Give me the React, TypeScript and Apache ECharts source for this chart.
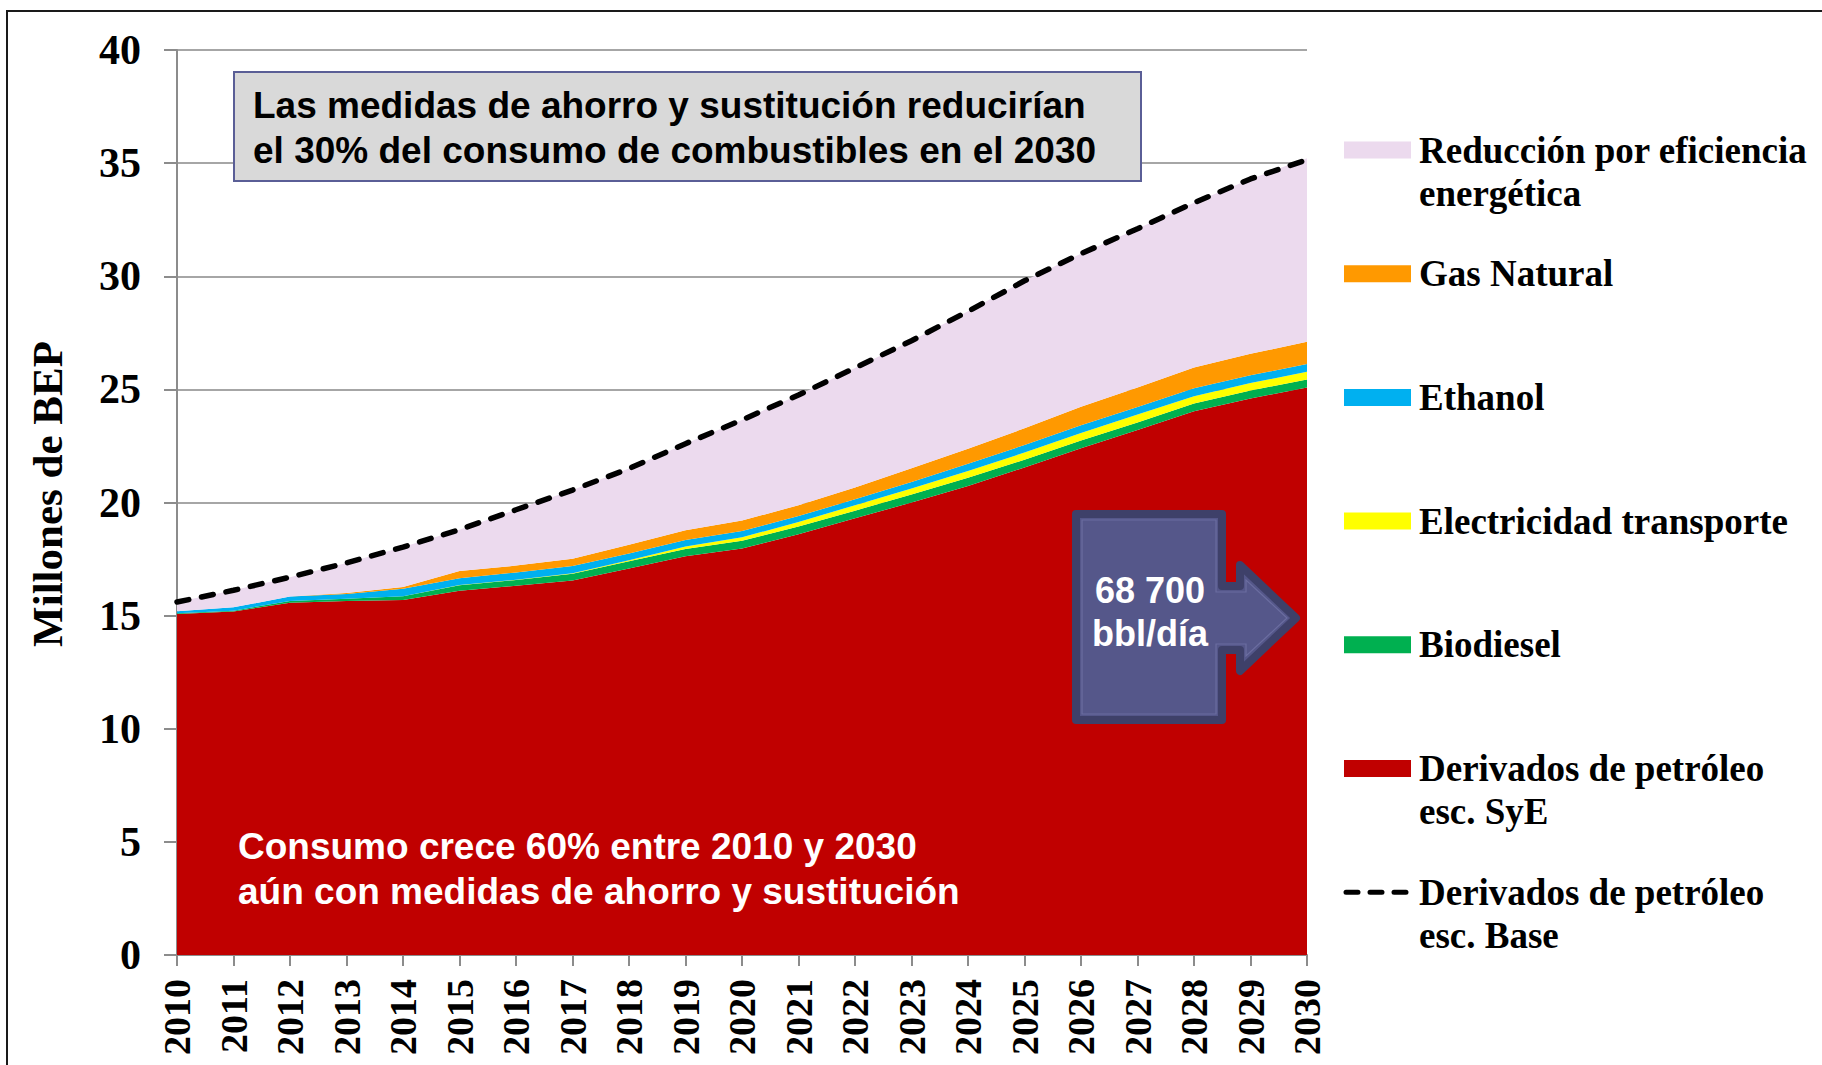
import React, { useEffect, useRef } from 'react';
import * as echarts from 'echarts';

const years = ['2010', '2011', '2012', '2013', '2014', '2015', '2016', '2017', '2018', '2019', '2020', '2021', '2022', '2023', '2024', '2025', '2026', '2027', '2028', '2029', '2030'];

const derivadosSyE = [15.07, 15.18, 15.57, 15.65, 15.69, 16.1, 16.32, 16.55, 17.08, 17.62, 17.97, 18.6, 19.3, 20.0, 20.73, 21.55, 22.4, 23.2, 24.03, 24.6, 25.08];
const biodiesel = [0.03, 0.04, 0.08, 0.1, 0.17, 0.24, 0.26, 0.3, 0.32, 0.33, 0.34, 0.34, 0.34, 0.35, 0.36, 0.34, 0.34, 0.34, 0.35, 0.35, 0.36];
const electricidad = [0, 0, 0, 0, 0, 0.01, 0.01, 0.02, 0.05, 0.1, 0.15, 0.2, 0.24, 0.27, 0.3, 0.32, 0.33, 0.35, 0.32, 0.33, 0.34];
const ethanol = [0.09, 0.15, 0.19, 0.21, 0.33, 0.3, 0.32, 0.32, 0.3, 0.29, 0.28, 0.26, 0.26, 0.29, 0.32, 0.33, 0.34, 0.33, 0.35, 0.34, 0.34];
const gasNatural = [0, 0, 0, 0.04, 0.08, 0.32, 0.3, 0.32, 0.38, 0.43, 0.46, 0.48, 0.52, 0.6, 0.67, 0.74, 0.82, 0.86, 0.92, 0.95, 0.99];
const reduccion = [0.41, 0.75, 0.86, 1.33, 1.76, 1.83, 2.47, 3.04, 3.37, 3.83, 4.45, 4.87, 5.29, 5.64, 6.07, 6.52, 6.77, 7.02, 7.28, 7.73, 8.1];
const derivadosBase = [15.6, 16.12, 16.7, 17.33, 18.03, 18.8, 19.68, 20.55, 21.5, 22.6, 23.65, 24.75, 25.95, 27.15, 28.45, 29.8, 31.0, 32.1, 33.25, 34.3, 35.15];

const SERIF = '"Liberation Serif", "Times New Roman", serif';
const SANS = '"Liberation Sans", Arial, sans-serif';

const stackLayers = [
  { name: 'Derivados de petróleo esc. SyE', legend: 'Derivados de petróleo\nesc. SyE', data: derivadosSyE, color: '#C00000' },
  { name: 'Biodiesel', legend: 'Biodiesel', data: biodiesel, color: '#00B050' },
  { name: 'Electricidad transporte', legend: 'Electricidad transporte', data: electricidad, color: '#FFFF00' },
  { name: 'Ethanol', legend: 'Ethanol', data: ethanol, color: '#00B0F0' },
  { name: 'Gas Natural', legend: 'Gas Natural', data: gasNatural, color: '#FF9900' },
  { name: 'Reducción por eficiencia energética', legend: 'Reducción por eficiencia\nenergética', data: reduccion, color: '#ECDAEE' },
];

const legendOrder = [5, 4, 3, 2, 1, 0];

function buildOption() {
  const series: any[] = stackLayers.map((l) => ({
    name: l.name,
    type: 'line',
    stack: 'total',
    data: l.data,
    symbol: 'none',
    lineStyle: { width: 0 },
    areaStyle: { color: l.color, opacity: 1 },
    itemStyle: { color: l.color },
    z: 2,
  }));
  series.push({
    name: 'Derivados de petróleo esc. Base',
    type: 'line',
    data: derivadosBase,
    symbol: 'none',
    lineStyle: { color: '#000', width: 5.5, type: [12, 13], cap: 'round' },
    itemStyle: { color: '#000' },
    z: 5,
  });

  const graphics: any[] = [];
  graphics.push({
    type: 'rect',
    shape: { x: 7, y: 11, width: 1840, height: 1080 },
    style: { fill: 'none', stroke: '#1a1a1a', lineWidth: 2 },
    z: 100,
  });
  graphics.push({
    type: 'text',
    x: 47,
    y: 494,
    rotation: Math.PI / 2,
    style: {
      text: 'Millones de BEP',
      fontFamily: SERIF,
      fontWeight: 'bold',
      fontSize: 43,
      fill: '#000',
      align: 'center',
      verticalAlign: 'middle',
    },
    z: 100,
  });
  graphics.push({
    type: 'rect',
    shape: { x: 234, y: 72, width: 907, height: 109 },
    style: { fill: '#D9D9D9', stroke: '#5A5E96', lineWidth: 2 },
    z: 100,
  });
  graphics.push({
    type: 'text',
    x: 253,
    y: 82.5,
    style: {
      text: 'Las medidas de ahorro y sustitución reducirían\nel 30% del consumo de combustibles en el 2030',
      fontFamily: SANS,
      fontWeight: 'bold',
      fontSize: 37,
      lineHeight: 45,
      fill: '#000',
      align: 'left',
      verticalAlign: 'top',
    },
    z: 101,
  });
  graphics.push({
    type: 'text',
    x: 238,
    y: 823.5,
    style: {
      text: 'Consumo crece 60% entre 2010 y 2030\naún con medidas de ahorro y sustitución',
      fontFamily: SANS,
      fontWeight: 'bold',
      fontSize: 37,
      lineHeight: 45,
      fill: '#fff',
      align: 'left',
      verticalAlign: 'top',
    },
    z: 101,
  });
  graphics.push({
    type: 'polygon',
    shape: {
      points: [
        [1076, 514], [1222, 514], [1222, 586], [1240, 586], [1240, 565], [1296, 618],
        [1240, 671], [1240, 650], [1222, 650], [1222, 720], [1076, 720],
      ],
    },
    style: { fill: '#55578A', stroke: '#3E4069', lineWidth: 8, lineJoin: 'round' },
    z: 100,
  });
  graphics.push({
    type: 'polygon',
    shape: {
      points: [
        [1082, 520], [1216, 520], [1216, 592], [1246, 592], [1246, 580], [1287, 618],
        [1246, 656], [1246, 644], [1216, 644], [1216, 714], [1082, 714],
      ],
    },
    style: { fill: 'none', stroke: '#6B6DA0', lineWidth: 1.2 },
    z: 101,
  });
  graphics.push({
    type: 'text',
    x: 1150,
    y: 568.5,
    style: {
      text: '68 700\nbbl/día',
      fontFamily: SANS,
      fontWeight: 'bold',
      fontSize: 36,
      lineHeight: 43,
      fill: '#fff',
      align: 'center',
      verticalAlign: 'top',
    },
    z: 102,
  });

  const legendX = 1344;
  const legendTop = 150;
  const legendStep = 123.7;
  const entries = legendOrder.map((i) => ({ label: stackLayers[i].legend, color: stackLayers[i].color, dashed: false }));
  entries.push({ label: 'Derivados de petróleo\nesc. Base', color: '#000', dashed: true });
  entries.forEach((e, k) => {
    const cy = legendTop + k * legendStep;
    if (e.dashed) {
      graphics.push({
        type: 'line',
        shape: { x1: legendX + 2, y1: cy, x2: legendX + 62, y2: cy },
        style: { stroke: '#000', lineWidth: 5, lineDash: [12, 12], lineCap: 'round' },
        z: 100,
      });
    } else {
      graphics.push({
        type: 'rect',
        shape: { x: legendX, y: cy - 8.5, width: 67, height: 17 },
        style: { fill: e.color },
        z: 100,
      });
    }
    graphics.push({
      type: 'text',
      x: legendX + 75,
      y: cy - 21.5,
      style: {
        text: e.label,
        fontFamily: SERIF,
        fontWeight: 'bold',
        fontSize: 37,
        lineHeight: 43,
        fill: '#000',
        align: 'left',
        verticalAlign: 'top',
      },
      z: 100,
    });
  });

  return {
    animation: false,
    backgroundColor: '#fff',
    grid: { left: 177, right: 515, top: 50, bottom: 110, containLabel: false, outerBoundsMode: 'none' },
    xAxis: {
      type: 'category',
      data: years,
      boundaryGap: false,
      axisLine: { show: true, lineStyle: { color: '#8C8C8C', width: 2 } },
      axisTick: { show: true, length: 11, lineStyle: { color: '#8C8C8C', width: 2 } },
      axisLabel: {
        rotate: 90,
        interval: 0,
        margin: 24,
        color: '#000',
        fontFamily: SERIF,
        fontWeight: 'bold',
        fontSize: 38,
      },
      splitLine: { show: false },
    },
    yAxis: {
      type: 'value',
      min: 0,
      max: 40,
      interval: 5,
      axisLine: { show: true, lineStyle: { color: '#8C8C8C', width: 2 } },
      axisTick: { show: true, length: 13, lineStyle: { color: '#8C8C8C', width: 2 } },
      axisLabel: {
        margin: 36,
        color: '#000',
        fontFamily: SERIF,
        fontWeight: 'bold',
        fontSize: 42,
      },
      splitLine: { show: true, lineStyle: { color: '#A6A6A6', width: 2 } },
    },
    series,
    graphic: { elements: graphics },
  };
}

export default function App() {
  const ref = useRef<HTMLDivElement>(null);
  useEffect(() => {
    const chart = echarts.init(ref.current as HTMLDivElement, null, { renderer: 'svg' });
    chart.setOption(buildOption() as any);
    return () => chart.dispose();
  }, []);
  return (
    <div
      ref={ref}
      style={{ position: 'fixed', left: 0, top: 0, width: 1822, height: 1065, background: '#fff' }}
    />
  );
}
